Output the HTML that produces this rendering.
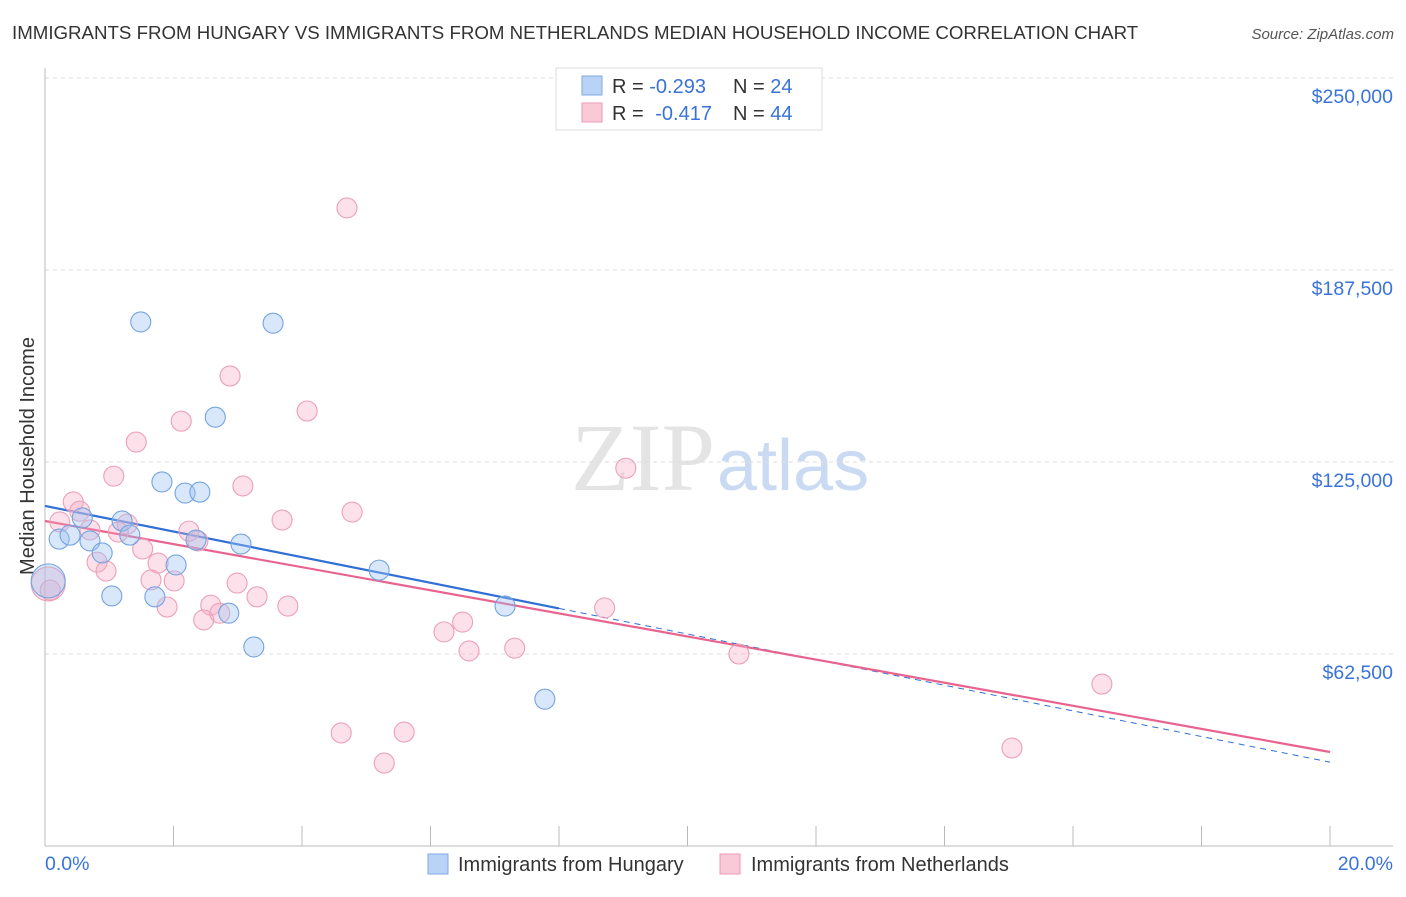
<!DOCTYPE html>
<html><head><meta charset="utf-8"><style>
body{margin:0;background:#fff;font-family:"Liberation Sans",sans-serif;}
</style></head><body>
<svg id="c" width="1406" height="892" xmlns="http://www.w3.org/2000/svg">
<text x="12" y="39" font-size="18.7" fill="#333">IMMIGRANTS FROM HUNGARY VS IMMIGRANTS FROM NETHERLANDS MEDIAN HOUSEHOLD INCOME CORRELATION CHART</text>
<text x="1394" y="39" font-size="15" fill="#555" font-style="italic" text-anchor="end">Source: ZipAtlas.com</text>
<text x="0" y="0" transform="translate(34,456) rotate(-90)" font-size="20" fill="#333" text-anchor="middle">Median Household Income</text>
<text x="715" y="490" font-size="96" fill="#e4e4e4" text-anchor="end" font-family="Liberation Serif,serif">ZIP</text>
<text x="717" y="490" font-size="72" fill="#c9daf2">atlas</text>
<g id="grid"></g><g id="axes"></g><g id="lines"></g><g id="pts"></g>
<g>
<rect x="556" y="68" width="266" height="62" fill="#fff" stroke="#ddd"/>
<rect x="582" y="76" width="20" height="19" fill="#b9d3f7" stroke="#7fa9e6"/>
<rect x="582" y="103" width="20" height="19" fill="#f9c9d8" stroke="#ef9ab5"/>
<text x="612" y="93" font-size="20" fill="#333">R = <tspan fill="#3a73d8">-0.293</tspan><tspan x="733">N = </tspan><tspan fill="#3a73d8">24</tspan></text>
<text x="612" y="120" font-size="20" fill="#333">R = <tspan fill="#3a73d8" dx="6">-0.417</tspan><tspan x="733">N = </tspan><tspan fill="#3a73d8">44</tspan></text>
</g>
<g>
<rect x="428" y="854" width="20" height="20" fill="#b9d3f7" stroke="#7fa9e6"/>
<text x="458" y="871" font-size="20" fill="#333">Immigrants from Hungary</text>
<rect x="720" y="854" width="20" height="20" fill="#f9c9d8" stroke="#ef9ab5"/>
<text x="751" y="871" font-size="20" fill="#333">Immigrants from Netherlands</text>
</g>
<text x="45" y="870" font-size="19.5" fill="#3a73d8">0.0%</text>
<text x="1393" y="870" font-size="19.5" fill="#3a73d8" text-anchor="end">20.0%</text>
</svg>
<script>
const yTicks=[62500,125000,187500,250000];
const yTickLabels=["$62,500","$125,000","$187,500","$250,000"];
const hungaryX=[1.49,3.55,2.65,1.82,2.18,2.41,1.20,0.22,0.39,0.70,1.32,0.89,2.35,3.05,2.04,5.20,1.04,1.71,2.86,7.16,3.25,7.78,0.05,0.58];
const hungaryY=[170.6,170.2,139.6,118.5,114.9,115.2,105.8,99.9,101.2,99.3,101.2,95.4,99.6,98.3,91.5,89.8,81.4,81.1,75.8,78.1,64.8,47.8,86.3,106.8];
const hungaryR=[10,10,10,10,10,10,10,10,10,10,10,10,10,10,10,10,10,10,10,10,10,10,17,10];
const nethX=[4.70,2.88,4.08,2.12,1.42,9.04,1.07,3.08,0.44,4.78,0.54,0.23,3.69,1.28,2.24,1.14,1.52,2.38,0.81,0.95,1.76,1.65,2.01,2.99,3.30,1.90,2.58,3.78,2.47,2.72,8.71,6.50,6.21,6.60,7.31,10.80,16.45,4.61,5.59,5.28,15.05,0.05,0.70,0.08];
const nethY=[207.7,153.0,141.6,138.3,131.5,123.0,120.4,117.2,112.0,108.7,109.0,105.5,106.1,104.8,102.5,102.2,96.7,99.3,92.4,89.5,92.1,86.6,86.3,85.6,81.1,77.8,78.4,78.1,73.6,75.8,77.5,72.9,69.7,63.5,64.4,62.5,52.7,36.8,37.1,27.0,31.9,85.3,102.9,83.3];
const nethR=[10,10,10,10,10,10,10,10,10,10,10,10,10,10,10,10,10,10,10,10,10,10,10,10,10,10,10,10,10,10,10,10,10,10,10,10,10,10,10,10,10,17,10,10];
const hungaryTrend=[110.7,27.3]; const hungarySolidEnd=8;
const nethTrend=[105.8,30.6];
const X=v=>45+v/20*1285, Y=v=>846-v*1000/62500*192;
const NS="http://www.w3.org/2000/svg";
function mk(p,t,a){const e=document.createElementNS(NS,t);for(const k in a)e.setAttribute(k,a[k]);document.getElementById(p).appendChild(e);return e;}
yTicks.forEach((t,i)=>{
 const g=mk('grid','line',{x1:45,x2:1393,y1:Y(t/1000),y2:Y(t/1000),stroke:'#ddd','stroke-dasharray':'4,4'});
 
 
 const l=mk('grid','text',{x:1393,y:Y(t/1000)+25,'font-size':19.5,fill:'#3a73d8','text-anchor':'end'});
 l.textContent=yTickLabels[i];
 
 
});
const ax=mk('axes','line',{x1:45,x2:45,y1:68,y2:846,stroke:'#bbb'});


const bx=mk('axes','line',{x1:45,x2:1393,y1:846,y2:846,stroke:'#bbb'});


for(let i=0;i<=10;i++){const t=mk('axes','line',{x1:X(i*2),x2:X(i*2),y1:826,y2:846,stroke:'#bbb'});
 
 }
function dot(xs,ys,rs,f,s,n){xs.forEach((x,i)=>{const c=mk('pts','circle',{cx:X(x),cy:Y(ys[i]),r:rs[i],fill:f,stroke:s,'stroke-width':1.1});
 
 });}
dot(nethX,nethY,nethR,'rgba(246,170,195,0.35)','#eca0b8','netherlands-point');
dot(hungaryX,hungaryY,hungaryR,'rgba(160,196,243,0.4)','#74a3e0','hungary-point');
const ty=(tr,x)=>tr[0]+(tr[1]-tr[0])*x/20;
const l1=mk('lines','line',{x1:X(0),y1:Y(ty(hungaryTrend,0)),x2:X(hungarySolidEnd),y2:Y(ty(hungaryTrend,hungarySolidEnd)),stroke:'#2f6fd6','stroke-width':2.2});


const l2=mk('lines','line',{x1:X(hungarySolidEnd),y1:Y(ty(hungaryTrend,hungarySolidEnd)),x2:X(20),y2:Y(ty(hungaryTrend,20)),stroke:'#2f6fd6','stroke-width':1,'stroke-dasharray':'6,5'});


const l3=mk('lines','line',{x1:X(0),y1:Y(ty(nethTrend,0)),x2:X(20),y2:Y(ty(nethTrend,20)),stroke:'#e8638e','stroke-width':2.2});


</script>
</body></html>
